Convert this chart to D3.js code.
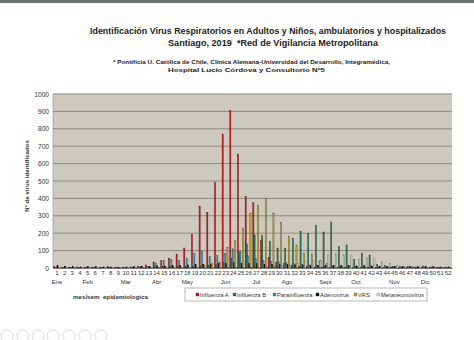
<!DOCTYPE html>
<html>
<head>
<meta charset="utf-8">
<script src="https://cdn.jsdelivr.net/npm/d3@7"></script>
<style>
  html, body { margin: 0; padding: 0; background: #ffffff; }
  svg { display: block; font-family: "Liberation Sans", Arial, sans-serif; }
</style>
</head>
<body>
<svg id="chart" width="474" height="340"></svg>
<script>
// Epidemiological weeks 1..52
const weeks = ["1","2","3","4","5","6","7","8","9","10","11","12","13","14","15","16","17","18","19","20","21","22","23","24","25","26",
               "27","28","29","30","31","32","33","34","35","36","37","38","39","40","41","42","43","44","45","46","47","48","49","50","51","52"];

// Month names and the week under which each one is printed
const monthLabels = ["Ene","Feb","Mar","Abr","May","Jun","Jul","Ago","Sept","Oct","Nov","Dic"];
const monthWeeks  = ["1","5","10","14","18","23","27","31","36","40","45","49"];

const seriesNames = ["Influenza A","Influenza B","Parainfluenza","Adenovirus","VRS","Metaneumovirus"];

// Weekly counts per virus
const influenzaA = [8,5,4,6,5,4,3,8,3,4,6,10,18,35,42,57,80,115,195,356,320,490,770,905,655,410,
                    375,160,60,30,25,15,10,8,5,5,4,4,3,3,3,3,3,3,3,2,2,2,3,2,2,2];
const influenzaB = [4,3,3,3,4,3,3,3,3,3,4,5,5,8,8,10,8,10,10,12,15,20,30,55,90,138,
                    190,185,155,115,115,172,210,200,247,207,264,122,132,50,86,75,22,15,10,8,8,6,12,6,5,5];
const parainfluenza = [3,2,3,2,3,2,3,2,3,4,5,8,10,25,45,50,45,57,86,95,65,70,85,110,95,70,
                       55,45,40,35,30,25,20,18,15,12,12,10,10,10,8,8,6,5,4,4,3,3,4,3,3,3];
const adenovirus = [15,10,8,6,8,7,6,6,5,6,8,10,10,12,12,14,15,18,20,22,22,25,25,30,28,25,
                    25,22,22,20,20,18,18,16,16,15,15,14,14,12,14,12,10,10,10,8,8,8,8,7,6,6];
const vrs = [1,1,1,1,1,1,1,1,1,1,1,2,2,2,2,2,2,3,5,15,25,35,120,160,230,316,
             362,400,316,264,184,132,86,80,40,25,15,10,8,6,5,4,3,2,2,2,2,2,2,2,2,2];
const metaneumovirus = [1,1,1,1,1,1,1,1,1,1,1,1,1,1,1,1,1,1,1,1,1,1,2,2,2,3,
                        5,8,10,12,18,25,40,45,45,75,80,75,75,52,57,52,35,28,15,10,8,6,5,4,3,3];

const seriesValues = [influenzaA, influenzaB, parainfluenza, adenovirus, vrs, metaneumovirus];
const seriesFill   = ["#cc1a14", "#2f7a56", "#2b9dbd", "#141414", "#b9a131", "#dcdad2"];
const seriesStroke = ["#6a0a08", "#173d2b", "#155064", "#000000", "#5c5018", "#55544f"];

const yTicks = [0,100,200,300,400,500,600,700,800,900,1000];

const svg = d3.select("#chart");

// Window strip along the top edge
svg.append("rect").attr("x", 0).attr("y", 0).attr("width", 474).attr("height", 3).attr("fill", "#6b716b");

// Titles
function title(txt, cx, cy, size, len) {
  svg.append("text").attr("x", cx).attr("y", cy).attr("text-anchor", "middle")
    .attr("font-size", size).attr("font-weight", "bold").attr("fill", "#222")
    .attr("xml:space", "preserve")
    .attr("textLength", len).attr("lengthAdjust", "spacingAndGlyphs")
    .text(txt);
}
title("Identificación Virus Respiratorios en Adultos y Niños, ambulatorios y hospitalizados", 268, 34, 9.4, 356);
title("Santiago, 2019  *Red de Vigilancia Metropolitana", 273, 46, 9.4, 210);
title("* Pontificia U. Católica de Chile, Clínica Alemana-Universidad del Desarrollo, Integramédica,", 251.5, 64, 6.2, 277);
title("Hospital Lucio Córdova y Consultorio Nº5", 246.5, 71.5, 6.2, 157);

// Scales
const x = d3.scaleBand().domain(weeks).range([53, 452]).paddingInner(0.06).paddingOuter(0.04);
const xs = d3.scaleBand().domain(seriesNames).range([0, x.bandwidth()]);
const y = d3.scaleLinear().domain([0, 1000]).range([268, 94]);

// Plot wall
svg.append("rect").attr("x", 53).attr("y", 94).attr("width", 399).attr("height", 174)
  .attr("fill", "#cec9be");

// Horizontal grid
svg.append("g").selectAll("line").data(yTicks).join("line")
  .attr("x1", 53).attr("x2", 452)
  .attr("y1", d => y(d)).attr("y2", d => y(d))
  .attr("stroke", "#8d877f").attr("stroke-width", 1);

// Left wall edge
svg.append("line").attr("x1", 53).attr("x2", 53).attr("y1", 94).attr("y2", 268)
  .attr("stroke", "#a8a299").attr("stroke-width", 0.8);

// Bars
const rows = [];
weeks.forEach((w, i) => {
  seriesNames.forEach((s, k) => rows.push({ week: w, series: s, k: k, value: seriesValues[k][i] }));
});
svg.append("g").selectAll("rect").data(rows).join("rect")
  .attr("x", d => x(d.week) + xs(d.series))
  .attr("y", d => y(d.value))
  .attr("width", xs.bandwidth())
  .attr("height", d => y(0) - y(d.value))
  .attr("fill", d => seriesFill[d.k])
  .attr("stroke", d => seriesStroke[d.k])
  .attr("stroke-width", 0.35);

// Y axis labels
const yAxis = d3.axisLeft(y).tickValues(yTicks).tickFormat(d3.format("d")).tickSize(0).tickPadding(4);
const gy = svg.append("g").attr("transform", "translate(53,0)").call(yAxis);
gy.select(".domain").remove();
gy.selectAll("text").attr("font-size", 6.6).attr("fill", "#333").attr("font-family", "Liberation Sans, Arial, sans-serif");

svg.append("text").attr("transform", "translate(29,176) rotate(-90)").attr("text-anchor", "middle")
  .attr("font-size", 6.2).attr("font-weight", "bold").attr("fill", "#333")
  .text("Nº de virus identificados");

// X axis: week numbers
const xAxis = d3.axisBottom(x).tickSize(0).tickPadding(3);
const gx = svg.append("g").attr("transform", "translate(0,268)").call(xAxis);
gx.select(".domain").attr("stroke", "#6d6a65").attr("stroke-width", 0.8);
gx.selectAll("text").attr("font-size", 6).attr("fill", "#333").attr("font-family", "Liberation Sans, Arial, sans-serif");

// Month names
svg.append("g").selectAll("text").data(monthLabels).join("text")
  .attr("x", (d, i) => x(monthWeeks[i]) + x.bandwidth() / 2)
  .attr("y", 284).attr("text-anchor", "middle")
  .attr("font-size", 6).attr("fill", "#333")
  .text(d => d);

svg.append("text").attr("x", 73).attr("y", 299)
  .attr("font-size", 6.2).attr("font-weight", "bold").attr("fill", "#333")
  .attr("xml:space", "preserve")
  .text("mes/sem  epidemiologica");

// Legend
const legendX = [196, 233, 273, 316, 354, 377];
svg.append("rect").attr("x", 185).attr("y", 288).attr("width", 242).attr("height", 13)
  .attr("fill", "#ffffff").attr("stroke", "#a6a6a6").attr("stroke-width", 0.8);
const lg = svg.append("g").selectAll("g").data(seriesNames).join("g")
  .attr("transform", (d, i) => `translate(${legendX[i]},294.5)`);
lg.append("rect").attr("x", 0).attr("y", -1.5).attr("width", 3).attr("height", 3)
  .attr("fill", (d, i) => seriesFill[i]).attr("stroke", (d, i) => seriesStroke[i]).attr("stroke-width", 0.3);
lg.append("text").attr("x", 4).attr("y", 2).attr("font-size", 5.8).attr("fill", "#333").text(d => d);

// Viewer controls along the bottom edge
const controlX = [7, 23, 38, 53, 69, 85, 101];
svg.append("g").selectAll("circle").data(controlX).join("circle")
  .attr("cx", d => d).attr("cy", 336).attr("r", 6)
  .attr("fill", "none").attr("stroke", "#dadada").attr("stroke-width", 1);
</script>
</body>
</html>
